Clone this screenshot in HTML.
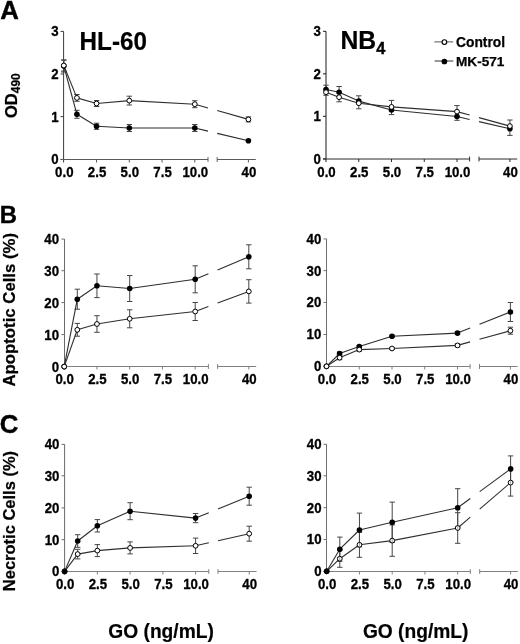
<!DOCTYPE html>
<html><head><meta charset="utf-8"><style>
html,body{margin:0;padding:0;background:#fff;}
body{width:520px;height:644px;overflow:hidden;}
svg{display:block;will-change:transform;}
text{font-family:"Liberation Sans", sans-serif;font-weight:bold;fill:#000;}
</style></head><body>
<svg width="520" height="644" viewBox="0 0 520 644">
<line x1="63.60" y1="31.40" x2="63.60" y2="162.50" stroke="#3a3a3a" stroke-width="1.0"/>
<line x1="60.60" y1="159.40" x2="63.60" y2="159.40" stroke="#3a3a3a" stroke-width="1.0"/>
<text transform="translate(58.60,164.30) scale(0.98,1.07)" font-size="13.5" text-anchor="end" stroke="#000" stroke-width="0.3" >0</text>
<line x1="60.60" y1="116.60" x2="63.60" y2="116.60" stroke="#3a3a3a" stroke-width="1.0"/>
<text transform="translate(58.60,121.50) scale(0.98,1.07)" font-size="13.5" text-anchor="end" stroke="#000" stroke-width="0.3" >1</text>
<line x1="60.60" y1="74.00" x2="63.60" y2="74.00" stroke="#3a3a3a" stroke-width="1.0"/>
<text transform="translate(58.60,78.90) scale(0.98,1.07)" font-size="13.5" text-anchor="end" stroke="#000" stroke-width="0.3" >2</text>
<line x1="60.60" y1="31.40" x2="63.60" y2="31.40" stroke="#3a3a3a" stroke-width="1.0"/>
<text transform="translate(58.60,36.30) scale(0.98,1.07)" font-size="13.5" text-anchor="end" stroke="#000" stroke-width="0.3" >3</text>
<line x1="60.60" y1="159.50" x2="208.00" y2="159.50" stroke="#5a5a5a" stroke-width="1.0"/>
<line x1="217.20" y1="159.50" x2="255.80" y2="159.50" stroke="#5a5a5a" stroke-width="1.0"/>
<line x1="208.00" y1="157.10" x2="208.00" y2="161.90" stroke="#5a5a5a" stroke-width="1.0"/>
<line x1="217.20" y1="157.10" x2="217.20" y2="161.90" stroke="#5a5a5a" stroke-width="1.0"/>
<text transform="translate(64.30,177.00) scale(0.98,1.07)" font-size="13.5" text-anchor="middle" stroke="#000" stroke-width="0.3" >0.0</text>
<line x1="96.55" y1="159.50" x2="96.55" y2="162.50" stroke="#5a5a5a" stroke-width="1.0"/>
<text transform="translate(97.05,177.00) scale(0.98,1.07)" font-size="13.5" text-anchor="middle" stroke="#000" stroke-width="0.3" >2.5</text>
<line x1="129.30" y1="159.50" x2="129.30" y2="162.50" stroke="#5a5a5a" stroke-width="1.0"/>
<text transform="translate(129.80,177.00) scale(0.98,1.07)" font-size="13.5" text-anchor="middle" stroke="#000" stroke-width="0.3" >5.0</text>
<line x1="162.05" y1="159.50" x2="162.05" y2="162.50" stroke="#5a5a5a" stroke-width="1.0"/>
<text transform="translate(162.55,177.00) scale(0.98,1.07)" font-size="13.5" text-anchor="middle" stroke="#000" stroke-width="0.3" >7.5</text>
<line x1="194.80" y1="159.50" x2="194.80" y2="162.50" stroke="#5a5a5a" stroke-width="1.0"/>
<text transform="translate(195.30,177.00) scale(0.98,1.07)" font-size="13.5" text-anchor="middle" stroke="#000" stroke-width="0.3" >10.0</text>
<line x1="248.40" y1="159.50" x2="248.40" y2="162.50" stroke="#5a5a5a" stroke-width="1.0"/>
<text transform="translate(248.90,177.00) scale(0.98,1.07)" font-size="13.5" text-anchor="middle" stroke="#000" stroke-width="0.3" >40</text>
<line x1="63.80" y1="60.00" x2="63.80" y2="66.00" stroke="#454545" stroke-width="1.0"/>
<line x1="61.10" y1="60.00" x2="66.50" y2="60.00" stroke="#454545" stroke-width="1.0"/>
<line x1="63.80" y1="66.00" x2="63.80" y2="72.00" stroke="#454545" stroke-width="1.0"/>
<line x1="61.10" y1="72.00" x2="66.50" y2="72.00" stroke="#454545" stroke-width="1.0"/>
<line x1="76.90" y1="110.30" x2="76.90" y2="114.30" stroke="#454545" stroke-width="1.0"/>
<line x1="74.20" y1="110.30" x2="79.60" y2="110.30" stroke="#454545" stroke-width="1.0"/>
<line x1="76.90" y1="114.30" x2="76.90" y2="118.30" stroke="#454545" stroke-width="1.0"/>
<line x1="74.20" y1="118.30" x2="79.60" y2="118.30" stroke="#454545" stroke-width="1.0"/>
<line x1="96.55" y1="123.20" x2="96.55" y2="126.30" stroke="#454545" stroke-width="1.0"/>
<line x1="93.85" y1="123.20" x2="99.25" y2="123.20" stroke="#454545" stroke-width="1.0"/>
<line x1="96.55" y1="126.30" x2="96.55" y2="129.40" stroke="#454545" stroke-width="1.0"/>
<line x1="93.85" y1="129.40" x2="99.25" y2="129.40" stroke="#454545" stroke-width="1.0"/>
<line x1="129.30" y1="124.50" x2="129.30" y2="128.00" stroke="#454545" stroke-width="1.0"/>
<line x1="126.60" y1="124.50" x2="132.00" y2="124.50" stroke="#454545" stroke-width="1.0"/>
<line x1="129.30" y1="128.00" x2="129.30" y2="131.50" stroke="#454545" stroke-width="1.0"/>
<line x1="126.60" y1="131.50" x2="132.00" y2="131.50" stroke="#454545" stroke-width="1.0"/>
<line x1="194.80" y1="124.50" x2="194.80" y2="128.00" stroke="#454545" stroke-width="1.0"/>
<line x1="192.10" y1="124.50" x2="197.50" y2="124.50" stroke="#454545" stroke-width="1.0"/>
<line x1="194.80" y1="128.00" x2="194.80" y2="131.50" stroke="#454545" stroke-width="1.0"/>
<line x1="192.10" y1="131.50" x2="197.50" y2="131.50" stroke="#454545" stroke-width="1.0"/>
<line x1="63.80" y1="66.00" x2="76.90" y2="114.30" stroke="#2e2e2e" stroke-width="1.1"/>
<line x1="76.90" y1="114.30" x2="96.55" y2="126.30" stroke="#2e2e2e" stroke-width="1.1"/>
<line x1="96.55" y1="126.30" x2="129.30" y2="128.00" stroke="#2e2e2e" stroke-width="1.1"/>
<line x1="129.30" y1="128.00" x2="194.80" y2="128.00" stroke="#2e2e2e" stroke-width="1.1"/>
<line x1="194.80" y1="128.00" x2="208.00" y2="131.15" stroke="#2e2e2e" stroke-width="1.1"/>
<line x1="217.20" y1="133.35" x2="248.40" y2="140.80" stroke="#2e2e2e" stroke-width="1.1"/>
<line x1="63.80" y1="60.00" x2="63.80" y2="65.50" stroke="#454545" stroke-width="1.0"/>
<line x1="61.10" y1="60.00" x2="66.50" y2="60.00" stroke="#454545" stroke-width="1.0"/>
<line x1="63.80" y1="65.50" x2="63.80" y2="71.00" stroke="#454545" stroke-width="1.0"/>
<line x1="61.10" y1="71.00" x2="66.50" y2="71.00" stroke="#454545" stroke-width="1.0"/>
<line x1="76.90" y1="94.50" x2="76.90" y2="97.90" stroke="#454545" stroke-width="1.0"/>
<line x1="74.20" y1="94.50" x2="79.60" y2="94.50" stroke="#454545" stroke-width="1.0"/>
<line x1="76.90" y1="97.90" x2="76.90" y2="101.30" stroke="#454545" stroke-width="1.0"/>
<line x1="74.20" y1="101.30" x2="79.60" y2="101.30" stroke="#454545" stroke-width="1.0"/>
<line x1="96.55" y1="100.50" x2="96.55" y2="103.50" stroke="#454545" stroke-width="1.0"/>
<line x1="93.85" y1="100.50" x2="99.25" y2="100.50" stroke="#454545" stroke-width="1.0"/>
<line x1="96.55" y1="103.50" x2="96.55" y2="106.50" stroke="#454545" stroke-width="1.0"/>
<line x1="93.85" y1="106.50" x2="99.25" y2="106.50" stroke="#454545" stroke-width="1.0"/>
<line x1="129.30" y1="96.20" x2="129.30" y2="100.60" stroke="#454545" stroke-width="1.0"/>
<line x1="126.60" y1="96.20" x2="132.00" y2="96.20" stroke="#454545" stroke-width="1.0"/>
<line x1="129.30" y1="100.60" x2="129.30" y2="105.00" stroke="#454545" stroke-width="1.0"/>
<line x1="126.60" y1="105.00" x2="132.00" y2="105.00" stroke="#454545" stroke-width="1.0"/>
<line x1="194.80" y1="100.70" x2="194.80" y2="104.20" stroke="#454545" stroke-width="1.0"/>
<line x1="192.10" y1="100.70" x2="197.50" y2="100.70" stroke="#454545" stroke-width="1.0"/>
<line x1="194.80" y1="104.20" x2="194.80" y2="107.70" stroke="#454545" stroke-width="1.0"/>
<line x1="192.10" y1="107.70" x2="197.50" y2="107.70" stroke="#454545" stroke-width="1.0"/>
<line x1="248.40" y1="116.90" x2="248.40" y2="119.40" stroke="#454545" stroke-width="1.0"/>
<line x1="245.70" y1="116.90" x2="251.10" y2="116.90" stroke="#454545" stroke-width="1.0"/>
<line x1="248.40" y1="119.40" x2="248.40" y2="121.90" stroke="#454545" stroke-width="1.0"/>
<line x1="245.70" y1="121.90" x2="251.10" y2="121.90" stroke="#454545" stroke-width="1.0"/>
<line x1="63.80" y1="65.50" x2="76.90" y2="97.90" stroke="#2e2e2e" stroke-width="1.1"/>
<line x1="76.90" y1="97.90" x2="96.55" y2="103.50" stroke="#2e2e2e" stroke-width="1.1"/>
<line x1="96.55" y1="103.50" x2="129.30" y2="100.60" stroke="#2e2e2e" stroke-width="1.1"/>
<line x1="129.30" y1="100.60" x2="194.80" y2="104.20" stroke="#2e2e2e" stroke-width="1.1"/>
<line x1="194.80" y1="104.20" x2="208.00" y2="107.94" stroke="#2e2e2e" stroke-width="1.1"/>
<line x1="217.20" y1="110.55" x2="248.40" y2="119.40" stroke="#2e2e2e" stroke-width="1.1"/>
<circle cx="63.80" cy="66.00" r="2.8" fill="#000"/>
<circle cx="76.90" cy="114.30" r="2.8" fill="#000"/>
<circle cx="96.55" cy="126.30" r="2.8" fill="#000"/>
<circle cx="129.30" cy="128.00" r="2.8" fill="#000"/>
<circle cx="194.80" cy="128.00" r="2.8" fill="#000"/>
<circle cx="248.40" cy="140.80" r="2.8" fill="#000"/>
<circle cx="63.80" cy="65.50" r="2.4" fill="#fff" stroke="#000" stroke-width="1.0"/>
<circle cx="76.90" cy="97.90" r="2.4" fill="#fff" stroke="#000" stroke-width="1.0"/>
<circle cx="96.55" cy="103.50" r="2.4" fill="#fff" stroke="#000" stroke-width="1.0"/>
<circle cx="129.30" cy="100.60" r="2.4" fill="#fff" stroke="#000" stroke-width="1.0"/>
<circle cx="194.80" cy="104.20" r="2.4" fill="#fff" stroke="#000" stroke-width="1.0"/>
<circle cx="248.40" cy="119.40" r="2.4" fill="#fff" stroke="#000" stroke-width="1.0"/>
<line x1="326.00" y1="31.30" x2="326.00" y2="162.00" stroke="#1a1a1a" stroke-width="1.0"/>
<line x1="323.00" y1="158.90" x2="326.00" y2="158.90" stroke="#1a1a1a" stroke-width="1.0"/>
<text transform="translate(320.80,163.80) scale(0.98,1.07)" font-size="13.5" text-anchor="end" stroke="#000" stroke-width="0.3" >0</text>
<line x1="323.00" y1="116.30" x2="326.00" y2="116.30" stroke="#1a1a1a" stroke-width="1.0"/>
<text transform="translate(320.80,121.20) scale(0.98,1.07)" font-size="13.5" text-anchor="end" stroke="#000" stroke-width="0.3" >1</text>
<line x1="323.00" y1="73.80" x2="326.00" y2="73.80" stroke="#1a1a1a" stroke-width="1.0"/>
<text transform="translate(320.80,78.70) scale(0.98,1.07)" font-size="13.5" text-anchor="end" stroke="#000" stroke-width="0.3" >2</text>
<line x1="323.00" y1="31.30" x2="326.00" y2="31.30" stroke="#1a1a1a" stroke-width="1.0"/>
<text transform="translate(320.80,36.20) scale(0.98,1.07)" font-size="13.5" text-anchor="end" stroke="#000" stroke-width="0.3" >3</text>
<line x1="323.00" y1="159.00" x2="469.60" y2="159.00" stroke="#2a2a2a" stroke-width="1.0"/>
<line x1="479.00" y1="159.00" x2="517.20" y2="159.00" stroke="#2a2a2a" stroke-width="1.0"/>
<line x1="469.60" y1="156.60" x2="469.60" y2="161.40" stroke="#2a2a2a" stroke-width="1.0"/>
<line x1="479.00" y1="156.60" x2="479.00" y2="161.40" stroke="#2a2a2a" stroke-width="1.0"/>
<text transform="translate(326.50,177.00) scale(0.98,1.07)" font-size="13.5" text-anchor="middle" stroke="#000" stroke-width="0.3" >0.0</text>
<line x1="358.75" y1="159.00" x2="358.75" y2="162.00" stroke="#2a2a2a" stroke-width="1.0"/>
<text transform="translate(359.25,177.00) scale(0.98,1.07)" font-size="13.5" text-anchor="middle" stroke="#000" stroke-width="0.3" >2.5</text>
<line x1="391.50" y1="159.00" x2="391.50" y2="162.00" stroke="#2a2a2a" stroke-width="1.0"/>
<text transform="translate(392.00,177.00) scale(0.98,1.07)" font-size="13.5" text-anchor="middle" stroke="#000" stroke-width="0.3" >5.0</text>
<line x1="424.25" y1="159.00" x2="424.25" y2="162.00" stroke="#2a2a2a" stroke-width="1.0"/>
<text transform="translate(424.75,177.00) scale(0.98,1.07)" font-size="13.5" text-anchor="middle" stroke="#000" stroke-width="0.3" >7.5</text>
<line x1="457.00" y1="159.00" x2="457.00" y2="162.00" stroke="#2a2a2a" stroke-width="1.0"/>
<text transform="translate(457.50,177.00) scale(0.98,1.07)" font-size="13.5" text-anchor="middle" stroke="#000" stroke-width="0.3" >10.0</text>
<line x1="509.90" y1="159.00" x2="509.90" y2="162.00" stroke="#2a2a2a" stroke-width="1.0"/>
<text transform="translate(510.40,177.00) scale(0.98,1.07)" font-size="13.5" text-anchor="middle" stroke="#000" stroke-width="0.3" >40</text>
<line x1="326.00" y1="85.20" x2="326.00" y2="89.50" stroke="#454545" stroke-width="1.0"/>
<line x1="323.30" y1="85.20" x2="328.70" y2="85.20" stroke="#454545" stroke-width="1.0"/>
<line x1="339.10" y1="86.50" x2="339.10" y2="92.20" stroke="#454545" stroke-width="1.0"/>
<line x1="336.40" y1="86.50" x2="341.80" y2="86.50" stroke="#454545" stroke-width="1.0"/>
<line x1="358.75" y1="95.80" x2="358.75" y2="101.10" stroke="#454545" stroke-width="1.0"/>
<line x1="356.05" y1="95.80" x2="361.45" y2="95.80" stroke="#454545" stroke-width="1.0"/>
<line x1="391.50" y1="110.00" x2="391.50" y2="114.60" stroke="#454545" stroke-width="1.0"/>
<line x1="388.80" y1="114.60" x2="394.20" y2="114.60" stroke="#454545" stroke-width="1.0"/>
<line x1="457.00" y1="116.50" x2="457.00" y2="120.30" stroke="#454545" stroke-width="1.0"/>
<line x1="454.30" y1="120.30" x2="459.70" y2="120.30" stroke="#454545" stroke-width="1.0"/>
<line x1="509.90" y1="128.80" x2="509.90" y2="135.40" stroke="#454545" stroke-width="1.0"/>
<line x1="507.20" y1="135.40" x2="512.60" y2="135.40" stroke="#454545" stroke-width="1.0"/>
<line x1="326.00" y1="89.50" x2="339.10" y2="92.20" stroke="#2e2e2e" stroke-width="1.1"/>
<line x1="339.10" y1="92.20" x2="358.75" y2="101.10" stroke="#2e2e2e" stroke-width="1.1"/>
<line x1="358.75" y1="101.10" x2="391.50" y2="110.00" stroke="#2e2e2e" stroke-width="1.1"/>
<line x1="391.50" y1="110.00" x2="457.00" y2="116.50" stroke="#2e2e2e" stroke-width="1.1"/>
<line x1="457.00" y1="116.50" x2="469.60" y2="119.43" stroke="#2e2e2e" stroke-width="1.1"/>
<line x1="479.00" y1="121.62" x2="509.90" y2="128.80" stroke="#2e2e2e" stroke-width="1.1"/>
<line x1="326.00" y1="92.20" x2="326.00" y2="95.30" stroke="#454545" stroke-width="1.0"/>
<line x1="323.30" y1="95.30" x2="328.70" y2="95.30" stroke="#454545" stroke-width="1.0"/>
<line x1="339.10" y1="97.20" x2="339.10" y2="101.80" stroke="#454545" stroke-width="1.0"/>
<line x1="336.40" y1="101.80" x2="341.80" y2="101.80" stroke="#454545" stroke-width="1.0"/>
<line x1="358.75" y1="103.20" x2="358.75" y2="108.80" stroke="#454545" stroke-width="1.0"/>
<line x1="356.05" y1="108.80" x2="361.45" y2="108.80" stroke="#454545" stroke-width="1.0"/>
<line x1="391.50" y1="100.40" x2="391.50" y2="106.90" stroke="#454545" stroke-width="1.0"/>
<line x1="388.80" y1="100.40" x2="394.20" y2="100.40" stroke="#454545" stroke-width="1.0"/>
<line x1="457.00" y1="105.60" x2="457.00" y2="111.60" stroke="#454545" stroke-width="1.0"/>
<line x1="454.30" y1="105.60" x2="459.70" y2="105.60" stroke="#454545" stroke-width="1.0"/>
<line x1="509.90" y1="120.00" x2="509.90" y2="126.10" stroke="#454545" stroke-width="1.0"/>
<line x1="507.20" y1="120.00" x2="512.60" y2="120.00" stroke="#454545" stroke-width="1.0"/>
<line x1="326.00" y1="92.20" x2="339.10" y2="97.20" stroke="#2e2e2e" stroke-width="1.1"/>
<line x1="339.10" y1="97.20" x2="358.75" y2="103.20" stroke="#2e2e2e" stroke-width="1.1"/>
<line x1="358.75" y1="103.20" x2="391.50" y2="106.90" stroke="#2e2e2e" stroke-width="1.1"/>
<line x1="391.50" y1="106.90" x2="457.00" y2="111.60" stroke="#2e2e2e" stroke-width="1.1"/>
<line x1="457.00" y1="111.60" x2="469.60" y2="115.05" stroke="#2e2e2e" stroke-width="1.1"/>
<line x1="479.00" y1="117.63" x2="509.90" y2="126.10" stroke="#2e2e2e" stroke-width="1.1"/>
<circle cx="326.00" cy="89.50" r="2.8" fill="#000"/>
<circle cx="339.10" cy="92.20" r="2.8" fill="#000"/>
<circle cx="358.75" cy="101.10" r="2.8" fill="#000"/>
<circle cx="391.50" cy="110.00" r="2.8" fill="#000"/>
<circle cx="457.00" cy="116.50" r="2.8" fill="#000"/>
<circle cx="509.90" cy="128.80" r="2.8" fill="#000"/>
<circle cx="326.00" cy="92.20" r="2.4" fill="#fff" stroke="#000" stroke-width="1.0"/>
<circle cx="339.10" cy="97.20" r="2.4" fill="#fff" stroke="#000" stroke-width="1.0"/>
<circle cx="358.75" cy="103.20" r="2.4" fill="#fff" stroke="#000" stroke-width="1.0"/>
<circle cx="391.50" cy="106.90" r="2.4" fill="#fff" stroke="#000" stroke-width="1.0"/>
<circle cx="457.00" cy="111.60" r="2.4" fill="#fff" stroke="#000" stroke-width="1.0"/>
<circle cx="509.90" cy="126.10" r="2.4" fill="#fff" stroke="#000" stroke-width="1.0"/>
<line x1="64.50" y1="239.10" x2="64.50" y2="369.50" stroke="#6a6a6a" stroke-width="1.0"/>
<line x1="61.50" y1="366.60" x2="64.50" y2="366.60" stroke="#6a6a6a" stroke-width="1.0"/>
<text transform="translate(59.00,371.50) scale(0.98,1.07)" font-size="13.5" text-anchor="end" stroke="#000" stroke-width="0.3" >0</text>
<line x1="61.50" y1="334.60" x2="64.50" y2="334.60" stroke="#6a6a6a" stroke-width="1.0"/>
<text transform="translate(59.00,339.50) scale(0.98,1.07)" font-size="13.5" text-anchor="end" stroke="#000" stroke-width="0.3" >10</text>
<line x1="61.50" y1="302.60" x2="64.50" y2="302.60" stroke="#6a6a6a" stroke-width="1.0"/>
<text transform="translate(59.00,307.50) scale(0.98,1.07)" font-size="13.5" text-anchor="end" stroke="#000" stroke-width="0.3" >20</text>
<line x1="61.50" y1="270.70" x2="64.50" y2="270.70" stroke="#6a6a6a" stroke-width="1.0"/>
<text transform="translate(59.00,275.60) scale(0.98,1.07)" font-size="13.5" text-anchor="end" stroke="#000" stroke-width="0.3" >30</text>
<line x1="61.50" y1="239.10" x2="64.50" y2="239.10" stroke="#6a6a6a" stroke-width="1.0"/>
<text transform="translate(59.00,244.00) scale(0.98,1.07)" font-size="13.5" text-anchor="end" stroke="#000" stroke-width="0.3" >40</text>
<line x1="61.50" y1="366.50" x2="208.40" y2="366.50" stroke="#808080" stroke-width="1.0"/>
<line x1="217.60" y1="366.50" x2="256.20" y2="366.50" stroke="#808080" stroke-width="1.0"/>
<line x1="208.40" y1="364.10" x2="208.40" y2="368.90" stroke="#808080" stroke-width="1.0"/>
<line x1="217.60" y1="364.10" x2="217.60" y2="368.90" stroke="#808080" stroke-width="1.0"/>
<text transform="translate(64.70,384.30) scale(0.98,1.07)" font-size="13.5" text-anchor="middle" stroke="#000" stroke-width="0.3" >0.0</text>
<line x1="96.95" y1="366.50" x2="96.95" y2="369.50" stroke="#808080" stroke-width="1.0"/>
<text transform="translate(97.45,384.30) scale(0.98,1.07)" font-size="13.5" text-anchor="middle" stroke="#000" stroke-width="0.3" >2.5</text>
<line x1="129.70" y1="366.50" x2="129.70" y2="369.50" stroke="#808080" stroke-width="1.0"/>
<text transform="translate(130.20,384.30) scale(0.98,1.07)" font-size="13.5" text-anchor="middle" stroke="#000" stroke-width="0.3" >5.0</text>
<line x1="162.45" y1="366.50" x2="162.45" y2="369.50" stroke="#808080" stroke-width="1.0"/>
<text transform="translate(162.95,384.30) scale(0.98,1.07)" font-size="13.5" text-anchor="middle" stroke="#000" stroke-width="0.3" >7.5</text>
<line x1="195.20" y1="366.50" x2="195.20" y2="369.50" stroke="#808080" stroke-width="1.0"/>
<text transform="translate(195.70,384.30) scale(0.98,1.07)" font-size="13.5" text-anchor="middle" stroke="#000" stroke-width="0.3" >10.0</text>
<line x1="248.80" y1="366.50" x2="248.80" y2="369.50" stroke="#808080" stroke-width="1.0"/>
<text transform="translate(249.30,384.30) scale(0.98,1.07)" font-size="13.5" text-anchor="middle" stroke="#000" stroke-width="0.3" >40</text>
<line x1="77.30" y1="289.20" x2="77.30" y2="299.20" stroke="#454545" stroke-width="1.0"/>
<line x1="74.60" y1="289.20" x2="80.00" y2="289.20" stroke="#454545" stroke-width="1.0"/>
<line x1="77.30" y1="299.20" x2="77.30" y2="309.20" stroke="#454545" stroke-width="1.0"/>
<line x1="74.60" y1="309.20" x2="80.00" y2="309.20" stroke="#454545" stroke-width="1.0"/>
<line x1="96.95" y1="274.00" x2="96.95" y2="285.80" stroke="#454545" stroke-width="1.0"/>
<line x1="94.25" y1="274.00" x2="99.65" y2="274.00" stroke="#454545" stroke-width="1.0"/>
<line x1="96.95" y1="285.80" x2="96.95" y2="297.60" stroke="#454545" stroke-width="1.0"/>
<line x1="94.25" y1="297.60" x2="99.65" y2="297.60" stroke="#454545" stroke-width="1.0"/>
<line x1="129.70" y1="275.50" x2="129.70" y2="288.50" stroke="#454545" stroke-width="1.0"/>
<line x1="127.00" y1="275.50" x2="132.40" y2="275.50" stroke="#454545" stroke-width="1.0"/>
<line x1="129.70" y1="288.50" x2="129.70" y2="301.50" stroke="#454545" stroke-width="1.0"/>
<line x1="127.00" y1="301.50" x2="132.40" y2="301.50" stroke="#454545" stroke-width="1.0"/>
<line x1="195.20" y1="265.80" x2="195.20" y2="279.30" stroke="#454545" stroke-width="1.0"/>
<line x1="192.50" y1="265.80" x2="197.90" y2="265.80" stroke="#454545" stroke-width="1.0"/>
<line x1="195.20" y1="279.30" x2="195.20" y2="292.80" stroke="#454545" stroke-width="1.0"/>
<line x1="192.50" y1="292.80" x2="197.90" y2="292.80" stroke="#454545" stroke-width="1.0"/>
<line x1="248.80" y1="244.80" x2="248.80" y2="256.80" stroke="#454545" stroke-width="1.0"/>
<line x1="246.10" y1="244.80" x2="251.50" y2="244.80" stroke="#454545" stroke-width="1.0"/>
<line x1="248.80" y1="256.80" x2="248.80" y2="268.80" stroke="#454545" stroke-width="1.0"/>
<line x1="246.10" y1="268.80" x2="251.50" y2="268.80" stroke="#454545" stroke-width="1.0"/>
<line x1="64.20" y1="366.60" x2="77.30" y2="299.20" stroke="#2e2e2e" stroke-width="1.1"/>
<line x1="77.30" y1="299.20" x2="96.95" y2="285.80" stroke="#2e2e2e" stroke-width="1.1"/>
<line x1="96.95" y1="285.80" x2="129.70" y2="288.50" stroke="#2e2e2e" stroke-width="1.1"/>
<line x1="129.70" y1="288.50" x2="195.20" y2="279.30" stroke="#2e2e2e" stroke-width="1.1"/>
<line x1="195.20" y1="279.30" x2="208.40" y2="273.76" stroke="#2e2e2e" stroke-width="1.1"/>
<line x1="217.60" y1="269.90" x2="248.80" y2="256.80" stroke="#2e2e2e" stroke-width="1.1"/>
<line x1="77.30" y1="323.40" x2="77.30" y2="329.80" stroke="#454545" stroke-width="1.0"/>
<line x1="74.60" y1="323.40" x2="80.00" y2="323.40" stroke="#454545" stroke-width="1.0"/>
<line x1="77.30" y1="329.80" x2="77.30" y2="336.20" stroke="#454545" stroke-width="1.0"/>
<line x1="74.60" y1="336.20" x2="80.00" y2="336.20" stroke="#454545" stroke-width="1.0"/>
<line x1="96.95" y1="315.70" x2="96.95" y2="324.00" stroke="#454545" stroke-width="1.0"/>
<line x1="94.25" y1="315.70" x2="99.65" y2="315.70" stroke="#454545" stroke-width="1.0"/>
<line x1="96.95" y1="324.00" x2="96.95" y2="332.30" stroke="#454545" stroke-width="1.0"/>
<line x1="94.25" y1="332.30" x2="99.65" y2="332.30" stroke="#454545" stroke-width="1.0"/>
<line x1="129.70" y1="309.80" x2="129.70" y2="318.80" stroke="#454545" stroke-width="1.0"/>
<line x1="127.00" y1="309.80" x2="132.40" y2="309.80" stroke="#454545" stroke-width="1.0"/>
<line x1="129.70" y1="318.80" x2="129.70" y2="327.80" stroke="#454545" stroke-width="1.0"/>
<line x1="127.00" y1="327.80" x2="132.40" y2="327.80" stroke="#454545" stroke-width="1.0"/>
<line x1="195.20" y1="302.50" x2="195.20" y2="311.50" stroke="#454545" stroke-width="1.0"/>
<line x1="192.50" y1="302.50" x2="197.90" y2="302.50" stroke="#454545" stroke-width="1.0"/>
<line x1="195.20" y1="311.50" x2="195.20" y2="320.50" stroke="#454545" stroke-width="1.0"/>
<line x1="192.50" y1="320.50" x2="197.90" y2="320.50" stroke="#454545" stroke-width="1.0"/>
<line x1="248.80" y1="279.70" x2="248.80" y2="291.40" stroke="#454545" stroke-width="1.0"/>
<line x1="246.10" y1="279.70" x2="251.50" y2="279.70" stroke="#454545" stroke-width="1.0"/>
<line x1="248.80" y1="291.40" x2="248.80" y2="303.10" stroke="#454545" stroke-width="1.0"/>
<line x1="246.10" y1="303.10" x2="251.50" y2="303.10" stroke="#454545" stroke-width="1.0"/>
<line x1="64.20" y1="366.60" x2="77.30" y2="329.80" stroke="#2e2e2e" stroke-width="1.1"/>
<line x1="77.30" y1="329.80" x2="96.95" y2="324.00" stroke="#2e2e2e" stroke-width="1.1"/>
<line x1="96.95" y1="324.00" x2="129.70" y2="318.80" stroke="#2e2e2e" stroke-width="1.1"/>
<line x1="129.70" y1="318.80" x2="195.20" y2="311.50" stroke="#2e2e2e" stroke-width="1.1"/>
<line x1="195.20" y1="311.50" x2="208.40" y2="306.55" stroke="#2e2e2e" stroke-width="1.1"/>
<line x1="217.60" y1="303.10" x2="248.80" y2="291.40" stroke="#2e2e2e" stroke-width="1.1"/>
<circle cx="64.20" cy="366.60" r="2.8" fill="#000"/>
<circle cx="77.30" cy="299.20" r="2.8" fill="#000"/>
<circle cx="96.95" cy="285.80" r="2.8" fill="#000"/>
<circle cx="129.70" cy="288.50" r="2.8" fill="#000"/>
<circle cx="195.20" cy="279.30" r="2.8" fill="#000"/>
<circle cx="248.80" cy="256.80" r="2.8" fill="#000"/>
<circle cx="64.20" cy="366.60" r="2.4" fill="#fff" stroke="#000" stroke-width="1.0"/>
<circle cx="77.30" cy="329.80" r="2.4" fill="#fff" stroke="#000" stroke-width="1.0"/>
<circle cx="96.95" cy="324.00" r="2.4" fill="#fff" stroke="#000" stroke-width="1.0"/>
<circle cx="129.70" cy="318.80" r="2.4" fill="#fff" stroke="#000" stroke-width="1.0"/>
<circle cx="195.20" cy="311.50" r="2.4" fill="#fff" stroke="#000" stroke-width="1.0"/>
<circle cx="248.80" cy="291.40" r="2.4" fill="#fff" stroke="#000" stroke-width="1.0"/>
<line x1="326.50" y1="238.90" x2="326.50" y2="369.50" stroke="#707070" stroke-width="1.0"/>
<line x1="323.50" y1="366.30" x2="326.50" y2="366.30" stroke="#707070" stroke-width="1.0"/>
<text transform="translate(321.30,371.20) scale(0.98,1.07)" font-size="13.5" text-anchor="end" stroke="#000" stroke-width="0.3" >0</text>
<line x1="323.50" y1="334.50" x2="326.50" y2="334.50" stroke="#707070" stroke-width="1.0"/>
<text transform="translate(321.30,339.40) scale(0.98,1.07)" font-size="13.5" text-anchor="end" stroke="#000" stroke-width="0.3" >10</text>
<line x1="323.50" y1="302.40" x2="326.50" y2="302.40" stroke="#707070" stroke-width="1.0"/>
<text transform="translate(321.30,307.30) scale(0.98,1.07)" font-size="13.5" text-anchor="end" stroke="#000" stroke-width="0.3" >20</text>
<line x1="323.50" y1="270.60" x2="326.50" y2="270.60" stroke="#707070" stroke-width="1.0"/>
<text transform="translate(321.30,275.50) scale(0.98,1.07)" font-size="13.5" text-anchor="end" stroke="#000" stroke-width="0.3" >30</text>
<line x1="323.50" y1="238.90" x2="326.50" y2="238.90" stroke="#707070" stroke-width="1.0"/>
<text transform="translate(321.30,243.80) scale(0.98,1.07)" font-size="13.5" text-anchor="end" stroke="#000" stroke-width="0.3" >40</text>
<line x1="323.50" y1="366.50" x2="470.10" y2="366.50" stroke="#808080" stroke-width="1.0"/>
<line x1="479.50" y1="366.50" x2="517.70" y2="366.50" stroke="#808080" stroke-width="1.0"/>
<line x1="470.10" y1="364.10" x2="470.10" y2="368.90" stroke="#808080" stroke-width="1.0"/>
<line x1="479.50" y1="364.10" x2="479.50" y2="368.90" stroke="#808080" stroke-width="1.0"/>
<text transform="translate(327.00,384.30) scale(0.98,1.07)" font-size="13.5" text-anchor="middle" stroke="#000" stroke-width="0.3" >0.0</text>
<line x1="359.25" y1="366.50" x2="359.25" y2="369.50" stroke="#808080" stroke-width="1.0"/>
<text transform="translate(359.75,384.30) scale(0.98,1.07)" font-size="13.5" text-anchor="middle" stroke="#000" stroke-width="0.3" >2.5</text>
<line x1="392.00" y1="366.50" x2="392.00" y2="369.50" stroke="#808080" stroke-width="1.0"/>
<text transform="translate(392.50,384.30) scale(0.98,1.07)" font-size="13.5" text-anchor="middle" stroke="#000" stroke-width="0.3" >5.0</text>
<line x1="424.75" y1="366.50" x2="424.75" y2="369.50" stroke="#808080" stroke-width="1.0"/>
<text transform="translate(425.25,384.30) scale(0.98,1.07)" font-size="13.5" text-anchor="middle" stroke="#000" stroke-width="0.3" >7.5</text>
<line x1="457.50" y1="366.50" x2="457.50" y2="369.50" stroke="#808080" stroke-width="1.0"/>
<text transform="translate(458.00,384.30) scale(0.98,1.07)" font-size="13.5" text-anchor="middle" stroke="#000" stroke-width="0.3" >10.0</text>
<line x1="510.40" y1="366.50" x2="510.40" y2="369.50" stroke="#808080" stroke-width="1.0"/>
<text transform="translate(510.90,384.30) scale(0.98,1.07)" font-size="13.5" text-anchor="middle" stroke="#000" stroke-width="0.3" >40</text>
<line x1="339.60" y1="352.00" x2="339.60" y2="353.50" stroke="#454545" stroke-width="1.0"/>
<line x1="336.90" y1="352.00" x2="342.30" y2="352.00" stroke="#454545" stroke-width="1.0"/>
<line x1="339.60" y1="353.50" x2="339.60" y2="355.00" stroke="#454545" stroke-width="1.0"/>
<line x1="336.90" y1="355.00" x2="342.30" y2="355.00" stroke="#454545" stroke-width="1.0"/>
<line x1="359.25" y1="345.50" x2="359.25" y2="346.50" stroke="#454545" stroke-width="1.0"/>
<line x1="356.55" y1="345.50" x2="361.95" y2="345.50" stroke="#454545" stroke-width="1.0"/>
<line x1="359.25" y1="346.50" x2="359.25" y2="347.50" stroke="#454545" stroke-width="1.0"/>
<line x1="356.55" y1="347.50" x2="361.95" y2="347.50" stroke="#454545" stroke-width="1.0"/>
<line x1="392.00" y1="335.20" x2="392.00" y2="336.20" stroke="#454545" stroke-width="1.0"/>
<line x1="389.30" y1="335.20" x2="394.70" y2="335.20" stroke="#454545" stroke-width="1.0"/>
<line x1="392.00" y1="336.20" x2="392.00" y2="337.20" stroke="#454545" stroke-width="1.0"/>
<line x1="389.30" y1="337.20" x2="394.70" y2="337.20" stroke="#454545" stroke-width="1.0"/>
<line x1="457.50" y1="331.60" x2="457.50" y2="333.10" stroke="#454545" stroke-width="1.0"/>
<line x1="454.80" y1="331.60" x2="460.20" y2="331.60" stroke="#454545" stroke-width="1.0"/>
<line x1="457.50" y1="333.10" x2="457.50" y2="334.60" stroke="#454545" stroke-width="1.0"/>
<line x1="454.80" y1="334.60" x2="460.20" y2="334.60" stroke="#454545" stroke-width="1.0"/>
<line x1="510.40" y1="302.50" x2="510.40" y2="312.00" stroke="#454545" stroke-width="1.0"/>
<line x1="507.70" y1="302.50" x2="513.10" y2="302.50" stroke="#454545" stroke-width="1.0"/>
<line x1="510.40" y1="312.00" x2="510.40" y2="321.50" stroke="#454545" stroke-width="1.0"/>
<line x1="507.70" y1="321.50" x2="513.10" y2="321.50" stroke="#454545" stroke-width="1.0"/>
<line x1="326.50" y1="366.30" x2="339.60" y2="353.50" stroke="#2e2e2e" stroke-width="1.1"/>
<line x1="339.60" y1="353.50" x2="359.25" y2="346.50" stroke="#2e2e2e" stroke-width="1.1"/>
<line x1="359.25" y1="346.50" x2="392.00" y2="336.20" stroke="#2e2e2e" stroke-width="1.1"/>
<line x1="392.00" y1="336.20" x2="457.50" y2="333.10" stroke="#2e2e2e" stroke-width="1.1"/>
<line x1="457.50" y1="333.10" x2="470.10" y2="328.07" stroke="#2e2e2e" stroke-width="1.1"/>
<line x1="479.50" y1="324.32" x2="510.40" y2="312.00" stroke="#2e2e2e" stroke-width="1.1"/>
<line x1="339.60" y1="355.70" x2="339.60" y2="357.70" stroke="#454545" stroke-width="1.0"/>
<line x1="336.90" y1="355.70" x2="342.30" y2="355.70" stroke="#454545" stroke-width="1.0"/>
<line x1="339.60" y1="357.70" x2="339.60" y2="359.70" stroke="#454545" stroke-width="1.0"/>
<line x1="336.90" y1="359.70" x2="342.30" y2="359.70" stroke="#454545" stroke-width="1.0"/>
<line x1="359.25" y1="348.10" x2="359.25" y2="349.60" stroke="#454545" stroke-width="1.0"/>
<line x1="356.55" y1="348.10" x2="361.95" y2="348.10" stroke="#454545" stroke-width="1.0"/>
<line x1="359.25" y1="349.60" x2="359.25" y2="351.10" stroke="#454545" stroke-width="1.0"/>
<line x1="356.55" y1="351.10" x2="361.95" y2="351.10" stroke="#454545" stroke-width="1.0"/>
<line x1="392.00" y1="347.50" x2="392.00" y2="348.50" stroke="#454545" stroke-width="1.0"/>
<line x1="389.30" y1="347.50" x2="394.70" y2="347.50" stroke="#454545" stroke-width="1.0"/>
<line x1="392.00" y1="348.50" x2="392.00" y2="349.50" stroke="#454545" stroke-width="1.0"/>
<line x1="389.30" y1="349.50" x2="394.70" y2="349.50" stroke="#454545" stroke-width="1.0"/>
<line x1="457.50" y1="343.90" x2="457.50" y2="345.40" stroke="#454545" stroke-width="1.0"/>
<line x1="454.80" y1="343.90" x2="460.20" y2="343.90" stroke="#454545" stroke-width="1.0"/>
<line x1="457.50" y1="345.40" x2="457.50" y2="346.90" stroke="#454545" stroke-width="1.0"/>
<line x1="454.80" y1="346.90" x2="460.20" y2="346.90" stroke="#454545" stroke-width="1.0"/>
<line x1="510.40" y1="327.20" x2="510.40" y2="330.70" stroke="#454545" stroke-width="1.0"/>
<line x1="507.70" y1="327.20" x2="513.10" y2="327.20" stroke="#454545" stroke-width="1.0"/>
<line x1="510.40" y1="330.70" x2="510.40" y2="334.20" stroke="#454545" stroke-width="1.0"/>
<line x1="507.70" y1="334.20" x2="513.10" y2="334.20" stroke="#454545" stroke-width="1.0"/>
<line x1="326.50" y1="366.30" x2="339.60" y2="357.70" stroke="#2e2e2e" stroke-width="1.1"/>
<line x1="339.60" y1="357.70" x2="359.25" y2="349.60" stroke="#2e2e2e" stroke-width="1.1"/>
<line x1="359.25" y1="349.60" x2="392.00" y2="348.50" stroke="#2e2e2e" stroke-width="1.1"/>
<line x1="392.00" y1="348.50" x2="457.50" y2="345.40" stroke="#2e2e2e" stroke-width="1.1"/>
<line x1="457.50" y1="345.40" x2="470.10" y2="341.90" stroke="#2e2e2e" stroke-width="1.1"/>
<line x1="479.50" y1="339.29" x2="510.40" y2="330.70" stroke="#2e2e2e" stroke-width="1.1"/>
<circle cx="326.50" cy="366.30" r="2.8" fill="#000"/>
<circle cx="339.60" cy="353.50" r="2.8" fill="#000"/>
<circle cx="359.25" cy="346.50" r="2.8" fill="#000"/>
<circle cx="392.00" cy="336.20" r="2.8" fill="#000"/>
<circle cx="457.50" cy="333.10" r="2.8" fill="#000"/>
<circle cx="510.40" cy="312.00" r="2.8" fill="#000"/>
<circle cx="326.50" cy="366.30" r="2.4" fill="#fff" stroke="#000" stroke-width="1.0"/>
<circle cx="339.60" cy="357.70" r="2.4" fill="#fff" stroke="#000" stroke-width="1.0"/>
<circle cx="359.25" cy="349.60" r="2.4" fill="#fff" stroke="#000" stroke-width="1.0"/>
<circle cx="392.00" cy="348.50" r="2.4" fill="#fff" stroke="#000" stroke-width="1.0"/>
<circle cx="457.50" cy="345.40" r="2.4" fill="#fff" stroke="#000" stroke-width="1.0"/>
<circle cx="510.40" cy="330.70" r="2.4" fill="#fff" stroke="#000" stroke-width="1.0"/>
<line x1="64.60" y1="444.40" x2="64.60" y2="574.50" stroke="#6a6a6a" stroke-width="1.0"/>
<line x1="61.60" y1="571.40" x2="64.60" y2="571.40" stroke="#6a6a6a" stroke-width="1.0"/>
<text transform="translate(59.40,576.30) scale(0.98,1.07)" font-size="13.5" text-anchor="end" stroke="#000" stroke-width="0.3" >0</text>
<line x1="61.60" y1="539.70" x2="64.60" y2="539.70" stroke="#6a6a6a" stroke-width="1.0"/>
<text transform="translate(59.40,544.60) scale(0.98,1.07)" font-size="13.5" text-anchor="end" stroke="#000" stroke-width="0.3" >10</text>
<line x1="61.60" y1="507.90" x2="64.60" y2="507.90" stroke="#6a6a6a" stroke-width="1.0"/>
<text transform="translate(59.40,512.80) scale(0.98,1.07)" font-size="13.5" text-anchor="end" stroke="#000" stroke-width="0.3" >20</text>
<line x1="61.60" y1="475.80" x2="64.60" y2="475.80" stroke="#6a6a6a" stroke-width="1.0"/>
<text transform="translate(59.40,480.70) scale(0.98,1.07)" font-size="13.5" text-anchor="end" stroke="#000" stroke-width="0.3" >30</text>
<line x1="61.60" y1="444.40" x2="64.60" y2="444.40" stroke="#6a6a6a" stroke-width="1.0"/>
<text transform="translate(59.40,449.30) scale(0.98,1.07)" font-size="13.5" text-anchor="end" stroke="#000" stroke-width="0.3" >40</text>
<line x1="61.60" y1="571.50" x2="208.80" y2="571.50" stroke="#808080" stroke-width="1.0"/>
<line x1="218.00" y1="571.50" x2="256.60" y2="571.50" stroke="#808080" stroke-width="1.0"/>
<line x1="208.80" y1="569.10" x2="208.80" y2="573.90" stroke="#808080" stroke-width="1.0"/>
<line x1="218.00" y1="569.10" x2="218.00" y2="573.90" stroke="#808080" stroke-width="1.0"/>
<text transform="translate(65.10,588.90) scale(0.98,1.07)" font-size="13.5" text-anchor="middle" stroke="#000" stroke-width="0.3" >0.0</text>
<line x1="97.35" y1="571.50" x2="97.35" y2="574.50" stroke="#808080" stroke-width="1.0"/>
<text transform="translate(97.85,588.90) scale(0.98,1.07)" font-size="13.5" text-anchor="middle" stroke="#000" stroke-width="0.3" >2.5</text>
<line x1="130.10" y1="571.50" x2="130.10" y2="574.50" stroke="#808080" stroke-width="1.0"/>
<text transform="translate(130.60,588.90) scale(0.98,1.07)" font-size="13.5" text-anchor="middle" stroke="#000" stroke-width="0.3" >5.0</text>
<line x1="162.85" y1="571.50" x2="162.85" y2="574.50" stroke="#808080" stroke-width="1.0"/>
<text transform="translate(163.35,588.90) scale(0.98,1.07)" font-size="13.5" text-anchor="middle" stroke="#000" stroke-width="0.3" >7.5</text>
<line x1="195.60" y1="571.50" x2="195.60" y2="574.50" stroke="#808080" stroke-width="1.0"/>
<text transform="translate(196.10,588.90) scale(0.98,1.07)" font-size="13.5" text-anchor="middle" stroke="#000" stroke-width="0.3" >10.0</text>
<line x1="249.20" y1="571.50" x2="249.20" y2="574.50" stroke="#808080" stroke-width="1.0"/>
<text transform="translate(249.70,588.90) scale(0.98,1.07)" font-size="13.5" text-anchor="middle" stroke="#000" stroke-width="0.3" >40</text>
<line x1="77.70" y1="534.70" x2="77.70" y2="541.00" stroke="#454545" stroke-width="1.0"/>
<line x1="75.00" y1="534.70" x2="80.40" y2="534.70" stroke="#454545" stroke-width="1.0"/>
<line x1="77.70" y1="541.00" x2="77.70" y2="547.30" stroke="#454545" stroke-width="1.0"/>
<line x1="75.00" y1="547.30" x2="80.40" y2="547.30" stroke="#454545" stroke-width="1.0"/>
<line x1="97.35" y1="519.60" x2="97.35" y2="525.80" stroke="#454545" stroke-width="1.0"/>
<line x1="94.65" y1="519.60" x2="100.05" y2="519.60" stroke="#454545" stroke-width="1.0"/>
<line x1="97.35" y1="525.80" x2="97.35" y2="532.00" stroke="#454545" stroke-width="1.0"/>
<line x1="94.65" y1="532.00" x2="100.05" y2="532.00" stroke="#454545" stroke-width="1.0"/>
<line x1="130.10" y1="502.70" x2="130.10" y2="511.20" stroke="#454545" stroke-width="1.0"/>
<line x1="127.40" y1="502.70" x2="132.80" y2="502.70" stroke="#454545" stroke-width="1.0"/>
<line x1="130.10" y1="511.20" x2="130.10" y2="519.70" stroke="#454545" stroke-width="1.0"/>
<line x1="127.40" y1="519.70" x2="132.80" y2="519.70" stroke="#454545" stroke-width="1.0"/>
<line x1="195.60" y1="513.50" x2="195.60" y2="518.10" stroke="#454545" stroke-width="1.0"/>
<line x1="192.90" y1="513.50" x2="198.30" y2="513.50" stroke="#454545" stroke-width="1.0"/>
<line x1="195.60" y1="518.10" x2="195.60" y2="522.70" stroke="#454545" stroke-width="1.0"/>
<line x1="192.90" y1="522.70" x2="198.30" y2="522.70" stroke="#454545" stroke-width="1.0"/>
<line x1="249.20" y1="487.20" x2="249.20" y2="496.20" stroke="#454545" stroke-width="1.0"/>
<line x1="246.50" y1="487.20" x2="251.90" y2="487.20" stroke="#454545" stroke-width="1.0"/>
<line x1="249.20" y1="496.20" x2="249.20" y2="505.20" stroke="#454545" stroke-width="1.0"/>
<line x1="246.50" y1="505.20" x2="251.90" y2="505.20" stroke="#454545" stroke-width="1.0"/>
<line x1="64.60" y1="571.40" x2="77.70" y2="541.00" stroke="#2e2e2e" stroke-width="1.1"/>
<line x1="77.70" y1="541.00" x2="97.35" y2="525.80" stroke="#2e2e2e" stroke-width="1.1"/>
<line x1="97.35" y1="525.80" x2="130.10" y2="511.20" stroke="#2e2e2e" stroke-width="1.1"/>
<line x1="130.10" y1="511.20" x2="195.60" y2="518.10" stroke="#2e2e2e" stroke-width="1.1"/>
<line x1="195.60" y1="518.10" x2="208.80" y2="512.71" stroke="#2e2e2e" stroke-width="1.1"/>
<line x1="218.00" y1="508.95" x2="249.20" y2="496.20" stroke="#2e2e2e" stroke-width="1.1"/>
<line x1="77.70" y1="549.30" x2="77.70" y2="554.10" stroke="#454545" stroke-width="1.0"/>
<line x1="75.00" y1="549.30" x2="80.40" y2="549.30" stroke="#454545" stroke-width="1.0"/>
<line x1="77.70" y1="554.10" x2="77.70" y2="558.90" stroke="#454545" stroke-width="1.0"/>
<line x1="75.00" y1="558.90" x2="80.40" y2="558.90" stroke="#454545" stroke-width="1.0"/>
<line x1="97.35" y1="544.60" x2="97.35" y2="550.60" stroke="#454545" stroke-width="1.0"/>
<line x1="94.65" y1="544.60" x2="100.05" y2="544.60" stroke="#454545" stroke-width="1.0"/>
<line x1="97.35" y1="550.60" x2="97.35" y2="556.60" stroke="#454545" stroke-width="1.0"/>
<line x1="94.65" y1="556.60" x2="100.05" y2="556.60" stroke="#454545" stroke-width="1.0"/>
<line x1="130.10" y1="541.90" x2="130.10" y2="547.90" stroke="#454545" stroke-width="1.0"/>
<line x1="127.40" y1="541.90" x2="132.80" y2="541.90" stroke="#454545" stroke-width="1.0"/>
<line x1="130.10" y1="547.90" x2="130.10" y2="553.90" stroke="#454545" stroke-width="1.0"/>
<line x1="127.40" y1="553.90" x2="132.80" y2="553.90" stroke="#454545" stroke-width="1.0"/>
<line x1="195.60" y1="538.10" x2="195.60" y2="545.80" stroke="#454545" stroke-width="1.0"/>
<line x1="192.90" y1="538.10" x2="198.30" y2="538.10" stroke="#454545" stroke-width="1.0"/>
<line x1="195.60" y1="545.80" x2="195.60" y2="553.50" stroke="#454545" stroke-width="1.0"/>
<line x1="192.90" y1="553.50" x2="198.30" y2="553.50" stroke="#454545" stroke-width="1.0"/>
<line x1="249.20" y1="526.20" x2="249.20" y2="533.70" stroke="#454545" stroke-width="1.0"/>
<line x1="246.50" y1="526.20" x2="251.90" y2="526.20" stroke="#454545" stroke-width="1.0"/>
<line x1="249.20" y1="533.70" x2="249.20" y2="541.20" stroke="#454545" stroke-width="1.0"/>
<line x1="246.50" y1="541.20" x2="251.90" y2="541.20" stroke="#454545" stroke-width="1.0"/>
<line x1="64.60" y1="571.40" x2="77.70" y2="554.10" stroke="#2e2e2e" stroke-width="1.1"/>
<line x1="77.70" y1="554.10" x2="97.35" y2="550.60" stroke="#2e2e2e" stroke-width="1.1"/>
<line x1="97.35" y1="550.60" x2="130.10" y2="547.90" stroke="#2e2e2e" stroke-width="1.1"/>
<line x1="130.10" y1="547.90" x2="195.60" y2="545.80" stroke="#2e2e2e" stroke-width="1.1"/>
<line x1="195.60" y1="545.80" x2="208.80" y2="542.82" stroke="#2e2e2e" stroke-width="1.1"/>
<line x1="218.00" y1="540.74" x2="249.20" y2="533.70" stroke="#2e2e2e" stroke-width="1.1"/>
<circle cx="64.60" cy="571.40" r="2.4" fill="#fff" stroke="#000" stroke-width="1.0"/>
<circle cx="77.70" cy="554.10" r="2.4" fill="#fff" stroke="#000" stroke-width="1.0"/>
<circle cx="97.35" cy="550.60" r="2.4" fill="#fff" stroke="#000" stroke-width="1.0"/>
<circle cx="130.10" cy="547.90" r="2.4" fill="#fff" stroke="#000" stroke-width="1.0"/>
<circle cx="195.60" cy="545.80" r="2.4" fill="#fff" stroke="#000" stroke-width="1.0"/>
<circle cx="249.20" cy="533.70" r="2.4" fill="#fff" stroke="#000" stroke-width="1.0"/>
<circle cx="64.60" cy="571.40" r="2.8" fill="#000"/>
<circle cx="77.70" cy="541.00" r="2.8" fill="#000"/>
<circle cx="97.35" cy="525.80" r="2.8" fill="#000"/>
<circle cx="130.10" cy="511.20" r="2.8" fill="#000"/>
<circle cx="195.60" cy="518.10" r="2.8" fill="#000"/>
<circle cx="249.20" cy="496.20" r="2.8" fill="#000"/>
<line x1="326.50" y1="444.30" x2="326.50" y2="574.50" stroke="#707070" stroke-width="1.0"/>
<line x1="323.50" y1="571.30" x2="326.50" y2="571.30" stroke="#707070" stroke-width="1.0"/>
<text transform="translate(321.50,576.20) scale(0.98,1.07)" font-size="13.5" text-anchor="end" stroke="#000" stroke-width="0.3" >0</text>
<line x1="323.50" y1="539.50" x2="326.50" y2="539.50" stroke="#707070" stroke-width="1.0"/>
<text transform="translate(321.50,544.40) scale(0.98,1.07)" font-size="13.5" text-anchor="end" stroke="#000" stroke-width="0.3" >10</text>
<line x1="323.50" y1="507.70" x2="326.50" y2="507.70" stroke="#707070" stroke-width="1.0"/>
<text transform="translate(321.50,512.60) scale(0.98,1.07)" font-size="13.5" text-anchor="end" stroke="#000" stroke-width="0.3" >20</text>
<line x1="323.50" y1="475.80" x2="326.50" y2="475.80" stroke="#707070" stroke-width="1.0"/>
<text transform="translate(321.50,480.70) scale(0.98,1.07)" font-size="13.5" text-anchor="end" stroke="#000" stroke-width="0.3" >30</text>
<line x1="323.50" y1="444.30" x2="326.50" y2="444.30" stroke="#707070" stroke-width="1.0"/>
<text transform="translate(321.50,449.20) scale(0.98,1.07)" font-size="13.5" text-anchor="end" stroke="#000" stroke-width="0.3" >40</text>
<line x1="323.50" y1="571.50" x2="470.30" y2="571.50" stroke="#808080" stroke-width="1.0"/>
<line x1="479.70" y1="571.50" x2="517.90" y2="571.50" stroke="#808080" stroke-width="1.0"/>
<line x1="470.30" y1="569.10" x2="470.30" y2="573.90" stroke="#808080" stroke-width="1.0"/>
<line x1="479.70" y1="569.10" x2="479.70" y2="573.90" stroke="#808080" stroke-width="1.0"/>
<text transform="translate(327.20,588.90) scale(0.98,1.07)" font-size="13.5" text-anchor="middle" stroke="#000" stroke-width="0.3" >0.0</text>
<line x1="359.45" y1="571.50" x2="359.45" y2="574.50" stroke="#808080" stroke-width="1.0"/>
<text transform="translate(359.95,588.90) scale(0.98,1.07)" font-size="13.5" text-anchor="middle" stroke="#000" stroke-width="0.3" >2.5</text>
<line x1="392.20" y1="571.50" x2="392.20" y2="574.50" stroke="#808080" stroke-width="1.0"/>
<text transform="translate(392.70,588.90) scale(0.98,1.07)" font-size="13.5" text-anchor="middle" stroke="#000" stroke-width="0.3" >5.0</text>
<line x1="424.95" y1="571.50" x2="424.95" y2="574.50" stroke="#808080" stroke-width="1.0"/>
<text transform="translate(425.45,588.90) scale(0.98,1.07)" font-size="13.5" text-anchor="middle" stroke="#000" stroke-width="0.3" >7.5</text>
<line x1="457.70" y1="571.50" x2="457.70" y2="574.50" stroke="#808080" stroke-width="1.0"/>
<text transform="translate(458.20,588.90) scale(0.98,1.07)" font-size="13.5" text-anchor="middle" stroke="#000" stroke-width="0.3" >10.0</text>
<line x1="510.60" y1="571.50" x2="510.60" y2="574.50" stroke="#808080" stroke-width="1.0"/>
<text transform="translate(511.10,588.90) scale(0.98,1.07)" font-size="13.5" text-anchor="middle" stroke="#000" stroke-width="0.3" >40</text>
<line x1="339.80" y1="537.10" x2="339.80" y2="549.20" stroke="#454545" stroke-width="1.0"/>
<line x1="337.10" y1="537.10" x2="342.50" y2="537.10" stroke="#454545" stroke-width="1.0"/>
<line x1="339.80" y1="549.20" x2="339.80" y2="561.30" stroke="#454545" stroke-width="1.0"/>
<line x1="337.10" y1="561.30" x2="342.50" y2="561.30" stroke="#454545" stroke-width="1.0"/>
<line x1="359.45" y1="513.10" x2="359.45" y2="530.00" stroke="#454545" stroke-width="1.0"/>
<line x1="356.75" y1="513.10" x2="362.15" y2="513.10" stroke="#454545" stroke-width="1.0"/>
<line x1="359.45" y1="530.00" x2="359.45" y2="546.90" stroke="#454545" stroke-width="1.0"/>
<line x1="356.75" y1="546.90" x2="362.15" y2="546.90" stroke="#454545" stroke-width="1.0"/>
<line x1="392.20" y1="502.10" x2="392.20" y2="522.30" stroke="#454545" stroke-width="1.0"/>
<line x1="389.50" y1="502.10" x2="394.90" y2="502.10" stroke="#454545" stroke-width="1.0"/>
<line x1="392.20" y1="522.30" x2="392.20" y2="542.50" stroke="#454545" stroke-width="1.0"/>
<line x1="389.50" y1="542.50" x2="394.90" y2="542.50" stroke="#454545" stroke-width="1.0"/>
<line x1="457.70" y1="488.70" x2="457.70" y2="507.80" stroke="#454545" stroke-width="1.0"/>
<line x1="455.00" y1="488.70" x2="460.40" y2="488.70" stroke="#454545" stroke-width="1.0"/>
<line x1="457.70" y1="507.80" x2="457.70" y2="526.90" stroke="#454545" stroke-width="1.0"/>
<line x1="455.00" y1="526.90" x2="460.40" y2="526.90" stroke="#454545" stroke-width="1.0"/>
<line x1="510.60" y1="455.90" x2="510.60" y2="468.90" stroke="#454545" stroke-width="1.0"/>
<line x1="507.90" y1="455.90" x2="513.30" y2="455.90" stroke="#454545" stroke-width="1.0"/>
<line x1="510.60" y1="468.90" x2="510.60" y2="481.90" stroke="#454545" stroke-width="1.0"/>
<line x1="507.90" y1="481.90" x2="513.30" y2="481.90" stroke="#454545" stroke-width="1.0"/>
<line x1="326.70" y1="571.30" x2="339.80" y2="549.20" stroke="#2e2e2e" stroke-width="1.1"/>
<line x1="339.80" y1="549.20" x2="359.45" y2="530.00" stroke="#2e2e2e" stroke-width="1.1"/>
<line x1="359.45" y1="530.00" x2="392.20" y2="522.30" stroke="#2e2e2e" stroke-width="1.1"/>
<line x1="392.20" y1="522.30" x2="457.70" y2="507.80" stroke="#2e2e2e" stroke-width="1.1"/>
<line x1="457.70" y1="507.80" x2="470.30" y2="498.53" stroke="#2e2e2e" stroke-width="1.1"/>
<line x1="479.70" y1="491.62" x2="510.60" y2="468.90" stroke="#2e2e2e" stroke-width="1.1"/>
<line x1="339.80" y1="550.10" x2="339.80" y2="558.70" stroke="#454545" stroke-width="1.0"/>
<line x1="337.10" y1="550.10" x2="342.50" y2="550.10" stroke="#454545" stroke-width="1.0"/>
<line x1="339.80" y1="558.70" x2="339.80" y2="567.30" stroke="#454545" stroke-width="1.0"/>
<line x1="337.10" y1="567.30" x2="342.50" y2="567.30" stroke="#454545" stroke-width="1.0"/>
<line x1="359.45" y1="532.30" x2="359.45" y2="544.80" stroke="#454545" stroke-width="1.0"/>
<line x1="356.75" y1="532.30" x2="362.15" y2="532.30" stroke="#454545" stroke-width="1.0"/>
<line x1="359.45" y1="544.80" x2="359.45" y2="557.30" stroke="#454545" stroke-width="1.0"/>
<line x1="356.75" y1="557.30" x2="362.15" y2="557.30" stroke="#454545" stroke-width="1.0"/>
<line x1="392.20" y1="524.90" x2="392.20" y2="540.60" stroke="#454545" stroke-width="1.0"/>
<line x1="389.50" y1="524.90" x2="394.90" y2="524.90" stroke="#454545" stroke-width="1.0"/>
<line x1="392.20" y1="540.60" x2="392.20" y2="556.30" stroke="#454545" stroke-width="1.0"/>
<line x1="389.50" y1="556.30" x2="394.90" y2="556.30" stroke="#454545" stroke-width="1.0"/>
<line x1="457.70" y1="512.70" x2="457.70" y2="528.00" stroke="#454545" stroke-width="1.0"/>
<line x1="455.00" y1="512.70" x2="460.40" y2="512.70" stroke="#454545" stroke-width="1.0"/>
<line x1="457.70" y1="528.00" x2="457.70" y2="543.30" stroke="#454545" stroke-width="1.0"/>
<line x1="455.00" y1="543.30" x2="460.40" y2="543.30" stroke="#454545" stroke-width="1.0"/>
<line x1="510.60" y1="469.10" x2="510.60" y2="482.60" stroke="#454545" stroke-width="1.0"/>
<line x1="507.90" y1="469.10" x2="513.30" y2="469.10" stroke="#454545" stroke-width="1.0"/>
<line x1="510.60" y1="482.60" x2="510.60" y2="496.10" stroke="#454545" stroke-width="1.0"/>
<line x1="507.90" y1="496.10" x2="513.30" y2="496.10" stroke="#454545" stroke-width="1.0"/>
<line x1="326.70" y1="571.30" x2="339.80" y2="558.70" stroke="#2e2e2e" stroke-width="1.1"/>
<line x1="339.80" y1="558.70" x2="359.45" y2="544.80" stroke="#2e2e2e" stroke-width="1.1"/>
<line x1="359.45" y1="544.80" x2="392.20" y2="540.60" stroke="#2e2e2e" stroke-width="1.1"/>
<line x1="392.20" y1="540.60" x2="457.70" y2="528.00" stroke="#2e2e2e" stroke-width="1.1"/>
<line x1="457.70" y1="528.00" x2="470.30" y2="517.19" stroke="#2e2e2e" stroke-width="1.1"/>
<line x1="479.70" y1="509.12" x2="510.60" y2="482.60" stroke="#2e2e2e" stroke-width="1.1"/>
<circle cx="326.70" cy="571.30" r="2.4" fill="#fff" stroke="#000" stroke-width="1.0"/>
<circle cx="339.80" cy="558.70" r="2.4" fill="#fff" stroke="#000" stroke-width="1.0"/>
<line x1="339.80" y1="556.90" x2="339.80" y2="560.50" stroke="#999" stroke-width="0.9"/>
<circle cx="359.45" cy="544.80" r="2.4" fill="#fff" stroke="#000" stroke-width="1.0"/>
<line x1="359.45" y1="543.00" x2="359.45" y2="546.60" stroke="#999" stroke-width="0.9"/>
<circle cx="392.20" cy="540.60" r="2.4" fill="#fff" stroke="#000" stroke-width="1.0"/>
<line x1="392.20" y1="538.80" x2="392.20" y2="542.40" stroke="#999" stroke-width="0.9"/>
<circle cx="457.70" cy="528.00" r="2.4" fill="#fff" stroke="#000" stroke-width="1.0"/>
<line x1="457.70" y1="526.20" x2="457.70" y2="529.80" stroke="#999" stroke-width="0.9"/>
<circle cx="510.60" cy="482.60" r="2.4" fill="#fff" stroke="#000" stroke-width="1.0"/>
<line x1="510.60" y1="480.80" x2="510.60" y2="484.40" stroke="#999" stroke-width="0.9"/>
<circle cx="326.70" cy="571.30" r="2.8" fill="#000"/>
<circle cx="339.80" cy="549.20" r="2.8" fill="#000"/>
<circle cx="359.45" cy="530.00" r="2.8" fill="#000"/>
<circle cx="392.20" cy="522.30" r="2.8" fill="#000"/>
<circle cx="457.70" cy="507.80" r="2.8" fill="#000"/>
<circle cx="510.60" cy="468.90" r="2.8" fill="#000"/>
<text x="0.30" y="18.70" font-size="25.8" text-anchor="start" stroke="#000" stroke-width="0.4" >A</text>
<text transform="translate(-0.30,222.70) scale(0.98,1.0)" font-size="24.3" text-anchor="start" stroke="#000" stroke-width="0.4" >B</text>
<text x="-0.20" y="433.00" font-size="25.8" text-anchor="start" stroke="#000" stroke-width="0.4" >C</text>
<text transform="translate(79.60,50.30) scale(0.99,1.05)" font-size="24.5" text-anchor="start" stroke="#000" stroke-width="0.2" >HL-60</text>
<text transform="translate(340.4,49.2) scale(0.99,1.04)" font-size="25" stroke="#000" stroke-width="0.2">NB<tspan font-size="16.5" dx="0.2" dy="4.6" stroke="#000" stroke-width="0.35">4</tspan></text>
<line x1="434.30" y1="41.90" x2="453.10" y2="41.90" stroke="#555" stroke-width="1.0"/>
<circle cx="444.4" cy="42.1" r="2.35" fill="#fff" stroke="#000" stroke-width="1.15"/>
<text x="456.00" y="46.60" font-size="13.8" text-anchor="start" stroke="#000" stroke-width="0.25" >Control</text>
<line x1="434.60" y1="61.00" x2="453.40" y2="61.00" stroke="#333" stroke-width="1.0"/>
<circle cx="444.4" cy="61.5" r="2.85" fill="#000"/>
<text x="456.00" y="65.90" font-size="13.6" text-anchor="start" stroke="#000" stroke-width="0.25" >MK-571</text>
<text transform="translate(16.6,118.0) rotate(-90)" font-size="16.5" stroke="#000" stroke-width="0.25">OD<tspan font-size="12" dy="3">490</tspan></text>
<text transform="translate(15.2,386.5) rotate(-90)" font-size="16.75" stroke="#000" stroke-width="0.25">Apoptotic Cells (%)</text>
<text transform="translate(15.0,591.2) rotate(-90)" font-size="16.5" stroke="#000" stroke-width="0.25">Necrotic Cells (%)</text>
<text transform="translate(108.30,637.70) scale(1.0,1.07)" font-size="19.2" text-anchor="start" stroke="#000" stroke-width="0.2" >GO (ng/mL)</text>
<text transform="translate(362.90,637.70) scale(1.0,1.07)" font-size="19.2" text-anchor="start" stroke="#000" stroke-width="0.2" >GO (ng/mL)</text>
</svg>
</body></html>
